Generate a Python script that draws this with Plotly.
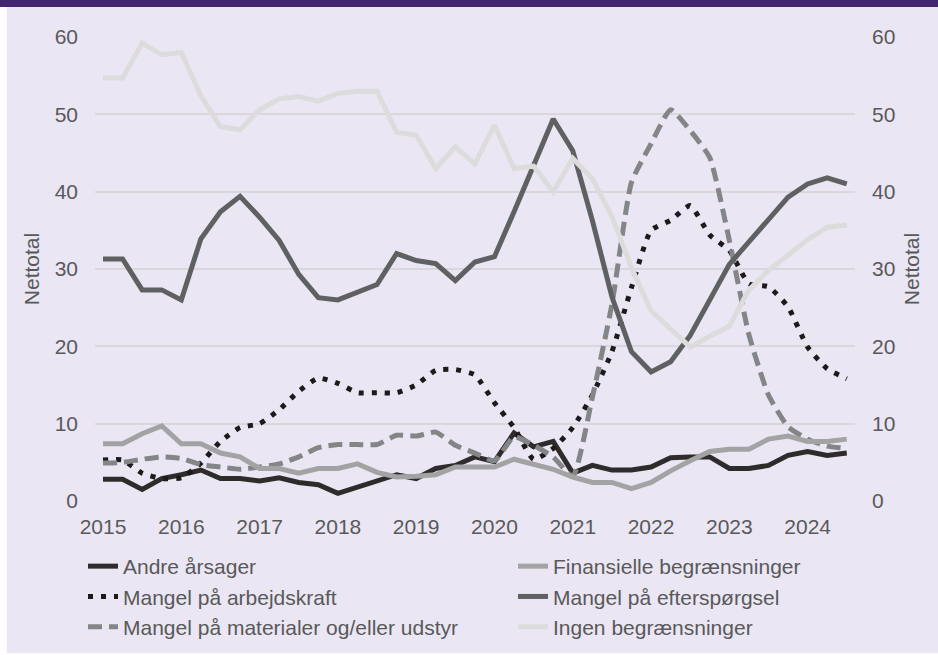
import plotly.graph_objects as go

quarters = list(range(39))  # 2015Q1 .. 2024Q3
tick_pos = [0, 4, 8, 12, 16, 20, 24, 28, 32, 36]
tick_labels = ["2015", "2016", "2017", "2018", "2019", "2020", "2021", "2022", "2023", "2024"]

andre = [2.8, 2.8, 1.5, 2.9, 3.4, 4.0, 2.9, 2.9, 2.6, 3.0, 2.4, 2.1, 1.0, 1.8, 2.5,
         3.4, 2.9, 4.2, 4.6, 5.7, 5.1, 8.8, 7.0, 7.7, 3.6, 4.6, 4.0, 4.0, 4.4, 5.6,
         5.7, 5.7, 4.2, 4.2, 4.6, 5.9, 6.4, 5.9, 6.2]
finansielle = [7.4, 7.4, 8.7, 9.7, 7.4, 7.4, 6.2, 5.7, 4.2, 4.2, 3.6, 4.2, 4.2, 4.8, 3.7,
               3.1, 3.2, 3.4, 4.4, 4.4, 4.4, 5.4, 4.8, 4.1, 3.1, 2.4, 2.4, 1.6, 2.4, 3.9,
               5.2, 6.4, 6.7, 6.7, 8.0, 8.4, 7.7, 7.7, 8.0]
arbejdskraft = [5.3, 5.3, 3.6, 2.9, 3.0, 4.9, 7.7, 9.5, 10.0, 11.8, 14.2, 15.9, 15.2, 14.0, 14.0,
                14.0, 15.0, 16.9, 17.0, 16.3, 12.7, 9.5, 5.4, 6.8, 9.5, 13.7, 19.3, 27.6, 35.0, 36.3,
                38.2, 34.4, 32.4, 28.1, 27.7, 25.1, 19.9, 17.1, 15.8]
efterspoergsel = [31.3, 31.3, 27.3, 27.3, 26.0, 33.9, 37.4, 39.4, 36.7, 33.7, 29.3, 26.3, 26.0, 27.0, 28.0,
                  32.0, 31.1, 30.7, 28.5, 30.9, 31.6, 37.4, 43.2, 49.4, 45.3, 36.3, 26.4, 19.3, 16.7, 18.0,
                  21.4, 26.0, 30.6, 33.5, 36.4, 39.3, 41.0, 41.8, 41.0]
materialer = [4.9, 5.0, 5.4, 5.7, 5.5, 4.7, 4.4, 4.1, 4.4, 4.8, 5.7, 6.9, 7.3, 7.3, 7.3,
              8.5, 8.4, 8.9, 7.2, 6.2, 5.2, 8.3, 7.2, 5.7, 3.2, 13.4, 25.4, 41.2, 46.2, 50.6,
              47.9, 44.4, 33.7, 21.5, 13.7, 9.6, 8.0, 7.1, 6.8]
ingen = [54.7, 54.7, 59.2, 57.7, 58.0, 52.4, 48.4, 48.0, 50.6, 52.0, 52.3, 51.7, 52.7, 53.0, 53.0,
         47.7, 47.3, 43.0, 45.8, 43.6, 48.6, 43.0, 43.3, 40.0, 44.3, 41.7, 36.8, 30.2, 24.6, 22.3,
         19.9, 21.3, 22.6, 27.3, 29.8, 31.8, 33.8, 35.4, 35.7]

series = [
    ("Andre årsager", andre, "#2f2b2b", "solid", "linear", "legend", "y"),
    ("Mangel på arbejdskraft", arbejdskraft, "#1c1a1a", "5px,8px", "spline", "legend", "y"),
    ("Mangel på materialer og/eller udstyr", materialer, "#838587", "14px,7px", "spline", "legend", "y"),
    ("Finansielle begrænsninger", finansielle, "#a3a3a3", "solid", "linear", "legend2", "y"),
    ("Mangel på efterspørgsel", efterspoergsel, "#5f6062", "solid", "linear", "legend2", "y"),
    ("Ingen begrænsninger", ingen, "#dcdcdc", "solid", "linear", "legend2", "y2"),
]

FONT = "Liberation Sans, Arial, sans-serif"
GREY = "#595959"
BG = "#EAE6F4"
FS = 21

fig = go.Figure()
for name, vals, color, dash, shape, leg, yax in series:
    line = dict(color=color, width=5, dash=dash, shape=shape)
    if shape == "spline":
        line["smoothing"] = 0.5
    fig.add_trace(go.Scatter(x=quarters, y=vals, name=name, mode="lines",
                             line=line, legend=leg, yaxis=yax))

W, H = 938, 655
L, R, T, B = 95, 83, 37, 154
pw, ph = W - L - R, H - T - B

def px_x(p):
    return (p - L) / pw

def px_y(p):
    return (H - B - p) / ph

yax_common = dict(range=[0, 60], dtick=10, zeroline=False, showline=False, ticks="",
                  ticklabelstandoff=16, tickfont=dict(size=FS, color=GREY), automargin=False,
                  title=dict(text="Nettotal", font=dict(size=FS, color=GREY), standoff=9))

fig.update_layout(
    width=W, height=H,
    margin=dict(l=L, r=R, t=T, b=B, autoexpand=False),
    paper_bgcolor=BG, plot_bgcolor=BG,
    font=dict(family=FONT, size=FS, color=GREY),
    showlegend=True,
    xaxis=dict(range=[-0.41, 38.42], tickvals=tick_pos, ticktext=tick_labels,
               showgrid=False, zeroline=False, showline=False, ticks="", automargin=False,
               ticklabelstandoff=11, tickfont=dict(size=FS, color=GREY)),
    yaxis=dict(showgrid=True, gridcolor="#D9D6DC", gridwidth=1.5, **yax_common),
    yaxis2=dict(overlaying="y", side="right", showgrid=False, **yax_common),
    legend=dict(x=px_x(83), y=px_y(546), xanchor="left", yanchor="top",
                orientation="v", bgcolor="rgba(0,0,0,0)", tracegroupgap=0,
                font=dict(size=FS, color=GREY, family=FONT)),
    legend2=dict(x=px_x(513), y=px_y(546), xanchor="left", yanchor="top",
                 orientation="v", bgcolor="rgba(0,0,0,0)", tracegroupgap=0,
                 font=dict(size=FS, color=GREY, family=FONT)),
    shapes=[
        dict(type="rect", xref="paper", yref="paper", x0=px_x(-5), x1=px_x(W + 5),
             y0=px_y(7), y1=px_y(-5), fillcolor="#42266F", line=dict(width=0), layer="above"),
        dict(type="rect", xref="paper", yref="paper", x0=px_x(-5), x1=px_x(7),
             y0=px_y(H + 5), y1=px_y(7), fillcolor="#FFFFFF", line=dict(width=0), layer="below"),
        dict(type="rect", xref="paper", yref="paper", x0=px_x(-5), x1=px_x(W + 5),
             y0=px_y(H + 5), y1=px_y(653), fillcolor="#FFFFFF", line=dict(width=0), layer="below"),
    ],
)

fig.write_html("out.html", config={"displayModeBar": False},
               post_script="document.body.style.margin='0';")
